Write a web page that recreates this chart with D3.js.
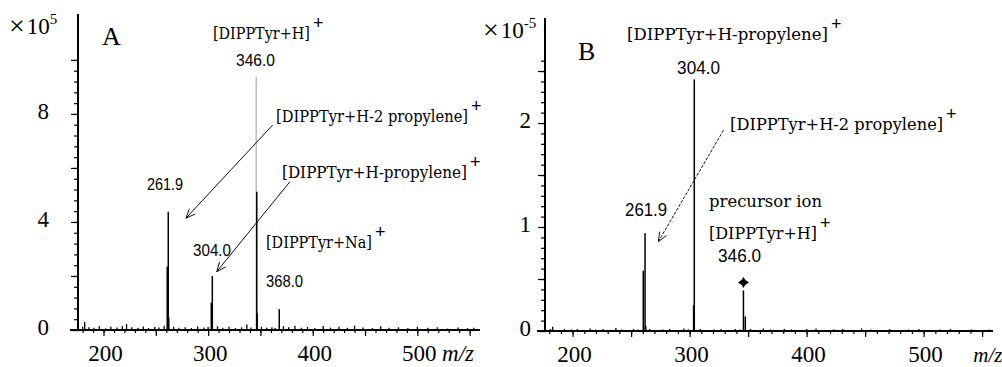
<!DOCTYPE html>
<html>
<head>
<meta charset="utf-8">
<script src="https://cdn.jsdelivr.net/npm/d3@7"></script>
<style>
  body { margin: 0; background: #fff; }
  svg { display: block; }
  .tm { font-family: "Liberation Serif", "Times New Roman", Times, serif; }
  .ion { font-family: "DejaVu Serif", "Liberation Serif", serif; }
  .num { font-family: "Liberation Sans Narrow", "Liberation Sans", Arial, sans-serif; }
</style>
</head>
<body>
<svg id="chart" width="1002" height="367"></svg>
<script>
// ---- panel A (x10^5) ----
const peakMzA = [260.9, 261.9, 262.4, 303.0, 304.0, 346.5, 346.9, 368.0];
const peakIntA = [2.34, 4.38, 0.45, 1.01, 2.00, 5.12, 0.63, 0.77];
// faint top of the base peak (drawn thin grey in the original)
const thinMzA = [345.9];
const thinIntA = [9.38];
const noiseMzA = [180, 182, 186, 191, 196, 202, 207, 213, 218, 222, 227, 233, 238, 243, 249, 253, 258, 267, 272, 278, 284, 290, 296, 300, 309, 314, 320, 326, 332, 337, 341, 351, 356, 361, 364, 372, 377, 383, 389, 395, 402, 410, 417, 425, 433, 440, 448, 457, 465, 473, 482, 491, 500, 510, 519, 529, 539, 548, 554];
const noiseIntA = [0.12, 0.30, 0.10, 0.08, 0.14, 0.06, 0.12, 0.09, 0.15, 0.22, 0.10, 0.08, 0.13, 0.07, 0.11, 0.09, 0.16, 0.12, 0.08, 0.10, 0.07, 0.13, 0.09, 0.11, 0.14, 0.08, 0.12, 0.07, 0.10, 0.20, 0.09, 0.12, 0.08, 0.10, 0.07, 0.14, 0.10, 0.16, 0.08, 0.11, 0.07, 0.15, 0.09, 0.12, 0.08, 0.16, 0.09, 0.07, 0.14, 0.08, 0.10, 0.07, 0.12, 0.08, 0.10, 0.06, 0.09, 0.07, 0.08];
const yLabelsA = [0, 4, 8];

// ---- panel B (x10^-5) ----
const peakMzB = [260.4, 261.9, 262.5, 303.4, 304.0, 346.0, 347.6];
const peakIntB = [0.58, 0.94, 0.05, 0.25, 2.42, 0.39, 0.14];
const markedMzB = [346.0];
const noiseMzB = [181, 183, 188, 193, 199, 204, 210, 215, 220, 226, 231, 237, 242, 247, 252, 256, 266, 271, 277, 283, 289, 295, 299, 309, 315, 321, 327, 333, 339, 343, 352, 357, 363, 369, 375, 381, 387, 393, 400, 408, 415, 423, 431, 439, 447, 455, 463, 471, 479, 487, 496, 505, 514, 523, 532, 541, 550, 556];
const noiseIntB = [0.02, 0.04, 0.01, 0.02, 0.015, 0.02, 0.01, 0.025, 0.015, 0.02, 0.01, 0.03, 0.015, 0.01, 0.02, 0.015, 0.02, 0.01, 0.015, 0.02, 0.01, 0.025, 0.015, 0.02, 0.01, 0.015, 0.02, 0.01, 0.02, 0.015, 0.02, 0.01, 0.025, 0.015, 0.01, 0.02, 0.015, 0.01, 0.02, 0.025, 0.01, 0.015, 0.02, 0.01, 0.025, 0.015, 0.01, 0.02, 0.01, 0.015, 0.02, 0.01, 0.015, 0.02, 0.01, 0.015, 0.01, 0.015];
const yLabelsB = [0, 1, 2];

const xLabels = [200, 300, 400, 500];

// annotations, placed in data units (m/z, intensity)
const ionLabelsA = [
  { t: '[DIPPTyr+H]', mz: 304.6, v: 10.78, w: 97 },
  { t: '[DIPPTyr+H-2 propylene]', mz: 364.9, v: 7.70, w: 192 },
  { t: '[DIPPTyr+H-propylene]', mz: 370.6, v: 5.63, w: 185 },
  { t: '[DIPPTyr+Na]', mz: 355.3, v: 3.04, w: 106 }
];
const numLabelsA = [
  { t: '346.0', mz: 345.3, v: 9.78, w: 39 },
  { t: '261.9', mz: 258.7, v: 5.19, w: 36 },
  { t: '304.0', mz: 303.7, v: 2.74, w: 38 },
  { t: '368.0', mz: 373.0, v: 1.59, w: 37 }
];
const arrowsA = [[361.7, 7.59, 278.8, 4.14], [378.2, 5.49, 308.2, 2.16]];

const ionLabelsB = [
  { t: '[DIPPTyr+H-propylene]', mz: 246.5, v: 2.80, w: 201 },
  { t: '[DIPPTyr+H-2 propylene]', mz: 334.6, v: 1.93, w: 213 },
  { t: 'precursor ion', mz: 316.6, v: 1.19, w: 113, plain: true },
  { t: '[DIPPTyr+H]', mz: 316.6, v: 0.885, w: 108 }
];
const numLabelsB = [
  { t: '304.0', mz: 307.7, v: 2.47, w: 43 },
  { t: '261.9', mz: 262.8, v: 1.11, w: 42 },
  { t: '346.0', mz: 342.7, v: 0.663, w: 43 }
];
const arrowsB = [[328.9, 1.93, 273.3, 0.86]];

const svg = d3.select('#chart');

function drawPanel(p) {
  const g = svg.append('g');
  const x = d3.scaleLinear().domain(p.xDomain).range(p.xRange);
  const y = d3.scaleLinear().domain(p.yDomain).range(p.yRange);
  const base = y(0);

  // x axis: minor + major ticks pointing down
  g.append('g')
    .attr('transform', `translate(0,${base})`)
    .call(d3.axisBottom(x).tickValues(d3.range(180, 560, 10)).tickSize(3).tickSizeOuter(0).tickFormat(''))
    .call(a => a.select('.domain').remove());
  g.append('g')
    .attr('transform', `translate(0,${base})`)
    .call(d3.axisBottom(x).tickValues(d3.range(200, 560, 50)).tickSize(6).tickSizeOuter(0).tickFormat(''))
    .call(a => a.select('.domain').remove());
  g.selectAll('.tick line').attr('stroke', '#000').attr('stroke-width', 1.2);

  // y axis ticks, pointing left
  const ya = g.append('g').attr('transform', `translate(${p.xRange[0]},0)`);
  ya.append('g')
    .call(d3.axisLeft(y).tickValues(p.minorTicks).tickSize(4).tickSizeOuter(0).tickFormat(''))
    .call(a => a.select('.domain').remove());
  ya.append('g')
    .call(d3.axisLeft(y).tickValues(p.majorTicks).tickSize(7).tickSizeOuter(0).tickFormat(''))
    .call(a => a.select('.domain').remove());
  ya.selectAll('.tick line').attr('stroke', '#000').attr('stroke-width', 1.2);

  // noise sticks
  g.append('g').selectAll('line')
    .data(d3.zip(p.noiseMz, p.noiseInt))
    .join('line')
    .attr('x1', d => x(d[0])).attr('x2', d => x(d[0]))
    .attr('y1', base).attr('y2', d => y(d[1]))
    .attr('stroke', '#000').attr('stroke-width', 1.3);

  // thin grey top of base peak
  if (p.thinMz) {
    g.append('g').selectAll('line')
      .data(d3.zip(p.thinMz, p.thinInt))
      .join('line')
      .attr('x1', d => x(d[0])).attr('x2', d => x(d[0]))
      .attr('y1', base).attr('y2', d => y(d[1]))
      .attr('stroke', '#9a9a9a').attr('stroke-width', 1);
  }

  // peak sticks
  g.append('g').selectAll('line')
    .data(d3.zip(p.peakMz, p.peakInt))
    .join('line')
    .attr('x1', d => x(d[0])).attr('x2', d => x(d[0]))
    .attr('y1', base).attr('y2', d => y(d[1]))
    .attr('stroke', '#000').attr('stroke-width', 1.5);

  // axis lines
  g.append('line')
    .attr('x1', p.xRange[0] - 8).attr('x2', p.xRange[1])
    .attr('y1', base).attr('y2', base)
    .attr('stroke', '#000').attr('stroke-width', 2);
  g.append('line')
    .attr('x1', p.xRange[0]).attr('x2', p.xRange[0])
    .attr('y1', base).attr('y2', p.yRange[1])
    .attr('stroke', '#000').attr('stroke-width', 2);

  // tick labels
  g.append('g').selectAll('text')
    .data(xLabels)
    .join('text')
    .attr('class', 'tm')
    .attr('x', d => x(d) + 2).attr('y', base + 31)
    .attr('text-anchor', 'middle')
    .attr('font-size', 23)
    .text(d => d);
  g.append('g').selectAll('text')
    .data(p.yLabels)
    .join('text')
    .attr('class', 'tm')
    .attr('x', p.xRange[0] - p.yLabelGap).attr('y', d => y(d) + 5)
    .attr('text-anchor', 'end')
    .attr('font-size', 23)
    .text(d => d);

  // m/z
  g.append('text')
    .attr('class', 'tm')
    .attr('x', x(p.mzAt)).attr('y', base + 31)
    .attr('font-style', 'italic').attr('font-size', p.mzSize)
    .text('m/z');

  // multiplier
  const mult = g.append('text')
    .attr('class', 'tm')
    .attr('x', p.xRange[0] - p.multGap).attr('y', p.yRange[1] + 20)
    .attr('font-size', 23);
  mult.append('tspan').attr('font-size', 28).attr('dy', 1).text('\u00d7');
  mult.append('tspan').attr('dx', 2).attr('dy', -1).text('10');
  mult.append('tspan').attr('font-size', 15).attr('dy', -10).text(p.exp);

  // panel letter
  g.append('text')
    .attr('class', 'tm')
    .attr('x', x(p.letterAt[0])).attr('y', y(p.letterAt[1]))
    .attr('font-size', 26)
    .text(p.letter);

  // ion labels
  p.ions.forEach(d => {
    const tx = x(d.mz), ty = y(d.v);
    g.append('text')
      .attr('class', 'ion')
      .attr('x', tx).attr('y', ty)
      .attr('font-size', p.ionSize)
      .attr('textLength', d.w).attr('lengthAdjust', 'spacingAndGlyphs')
      .text(d.t);
    if (!d.plain) {
      g.append('text')
        .attr('class', 'num')
        .attr('x', tx + d.w + 3).attr('y', ty - 10)
        .attr('font-size', 18)
        .text('+');
    }
  });

  // m/z value labels
  g.append('g').selectAll('text')
    .data(p.nums)
    .join('text')
    .attr('class', 'num')
    .attr('x', d => x(d.mz)).attr('y', d => y(d.v))
    .attr('text-anchor', 'middle')
    .attr('font-size', p.numSize)
    .attr('textLength', d => d.w).attr('lengthAdjust', 'spacingAndGlyphs')
    .text(d => d.t);

  // arrows with open heads
  p.arrows.forEach(a => {
    const x1 = x(a[0]), y1 = y(a[1]), x2 = x(a[2]), y2 = y(a[3]);
    const ang = Math.atan2(y2 - y1, x2 - x1);
    const L = 10, s = 0.4;
    const h1 = [x2 - L * Math.cos(ang - s), y2 - L * Math.sin(ang - s)];
    const h2 = [x2 - L * Math.cos(ang + s), y2 - L * Math.sin(ang + s)];
    g.append('line')
      .attr('x1', x1).attr('y1', y1).attr('x2', x2).attr('y2', y2)
      .attr('stroke', '#111').attr('stroke-width', 1)
      .attr('stroke-dasharray', p.arrowDash);
    g.append('path')
      .attr('d', `M${h1[0]},${h1[1]}L${x2},${y2}L${h2[0]},${h2[1]}`)
      .attr('fill', 'none').attr('stroke', '#111').attr('stroke-width', 1);
  });

  // precursor marker
  if (p.marked) {
    p.marked.forEach(m => {
      const i = p.peakMz.indexOf(m);
      const cx = x(m), cy = y(p.peakInt[i]) - 8;
      const r = 5.5, k = 1.6;
      g.append('path')
        .attr('d', `M${cx},${cy - r}Q${cx + k},${cy - k} ${cx + r},${cy}Q${cx + k},${cy + k} ${cx},${cy + r}Q${cx - k},${cy + k} ${cx - r},${cy}Q${cx - k},${cy - k} ${cx},${cy - r}Z`)
        .attr('fill', '#000');
    });
  }
}

drawPanel({
  xDomain: [175.6, 559.9], xRange: [78, 480],
  yDomain: [0, 11.7], yRange: [330, 14],
  minorTicks: d3.range(0, 10.01, 0.4), majorTicks: [0, 2, 4, 6, 8, 10],
  yLabels: yLabelsA, yLabelGap: 29,
  peakMz: peakMzA, peakInt: peakIntA,
  thinMz: thinMzA, thinInt: thinIntA,
  noiseMz: noiseMzA, noiseInt: noiseIntA,
  mzAt: 523.6, mzSize: 23, exp: '5', multGap: 69,
  letter: 'A', letterAt: [198.5, 10.56],
  ions: ionLabelsA, ionSize: 16, nums: numLabelsA, numSize: 17,
  arrows: arrowsA, arrowDash: null
});

drawPanel({
  xDomain: [176.4, 559.3], xRange: [545, 993],
  yDomain: [0, 3.01], yRange: [331, 18],
  minorTicks: d3.range(0, 2.61, 0.1), majorTicks: [0, 0.5, 1, 1.5, 2, 2.5],
  yLabels: yLabelsB, yLabelGap: 14,
  peakMz: peakMzB, peakInt: peakIntB,
  marked: markedMzB,
  noiseMz: noiseMzB, noiseInt: noiseIntB,
  mzAt: 542.5, mzSize: 21, exp: '-5', multGap: 62,
  letter: 'B', letterAt: [204.6, 2.61],
  ions: ionLabelsB, ionSize: 17, nums: numLabelsB, numSize: 18,
  arrows: arrowsB, arrowDash: '3,1.5'
});
</script>
</body>
</html>
